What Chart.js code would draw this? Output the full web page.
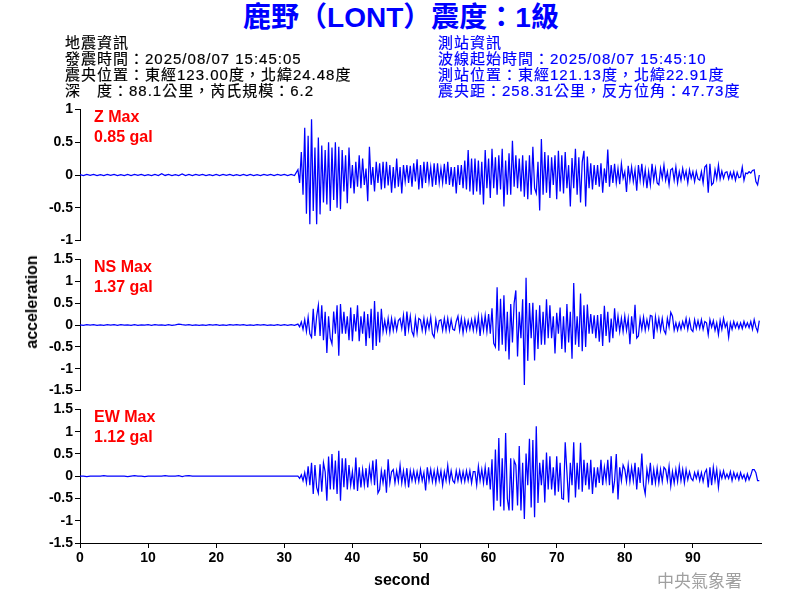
<!DOCTYPE html>
<html><head><meta charset="utf-8">
<script src="https://cdn.jsdelivr.net/npm/chart.js@4.4.1/dist/chart.umd.min.js"></script>
<style>
html,body{margin:0;padding:0;background:#fff;}
#wrap{position:relative;width:800px;height:600px;overflow:hidden;background:#fff;font-family:"Liberation Sans",Arial,"Noto Sans CJK TC",sans-serif;}
canvas{position:absolute;left:0;}
.t{position:absolute;white-space:nowrap;}
#title{left:0;width:802px;text-align:center;top:2px;font-size:28px;line-height:32px;font-weight:bold;color:#0000ff;}
.hdr{font-size:15px;line-height:16px;top:35px;letter-spacing:1px;-webkit-text-stroke:0.2px currentColor;}
#hl{left:65px;color:#000;}
#hr{left:438px;color:#0000ff;}
.red{left:94px;color:#ff0000;font-size:16px;line-height:20px;font-weight:bold;}
#acc{left:32px;top:302px;transform:translate(-50%,-50%) rotate(-90deg);font-size:16px;font-weight:bold;}
#sec{left:402px;top:580px;transform:translate(-50%,-50%);font-size:16px;font-weight:bold;}
#cwb{left:657px;top:569px;font-size:17px;line-height:22px;color:#a0a0a0;font-family:"Noto Sans CJK TC",sans-serif;}
</style></head><body>
<div id="wrap">
<canvas id="cZ" width="800" height="152" style="top:99px"></canvas>
<canvas id="cNS" width="800" height="152" style="top:249px"></canvas>
<canvas id="cEW" width="800" height="201" style="top:399px"></canvas>
<div class="t" id="title">鹿野（LONT）震度：1級</div>
<div class="t hdr" id="hl">地震資訊<br>發震時間：2025/08/07 15:45:05<br>震央位置：東經123.00度，北緯24.48度<br>深　度：88.1公里，芮氏規模：6.2</div>
<div class="t hdr" id="hr">測站資訊<br>波線起始時間：2025/08/07 15:45:10<br>測站位置：東經121.13度，北緯22.91度<br>震央距：258.31公里，反方位角：47.73度</div>
<div class="t red" style="top:107px">Z Max<br>0.85 gal</div>
<div class="t red" style="top:257px">NS Max<br>1.37 gal</div>
<div class="t red" style="top:407px">EW Max<br>1.12 gal</div>
<div class="t" id="acc">acceleration</div>
<div class="t" id="sec">second</div>
<div class="t" id="cwb">中央氣象署</div>
</div>
<script>
// sampling grid (seconds)
const preStart = 0, preStep = 0.5;
const eventStart = 32, eventStep = 0.25;
const xMin = 0, xMax = 100, xStep = 10;
const zRange = [-1, 1];
const hRange = [-1.5, 1.5];
const yStep = 0.5;

// pre-event noise (0 - 31.5 s)
const preZ = [0.008,-0.008,0.009,-0.007,0.008,-0.009,0.007,-0.008,0.009,-0.007,0.008,-0.009,0.007,-0.008,0.009,-0.008,
0.008,-0.007,0.009,-0.008,0.007,-0.009,0.008,-0.008,0.02,-0.007,0.008,-0.009,0.007,-0.008,0.015,-0.009,
0.009,-0.008,0.008,-0.007,0.009,-0.008,0.007,-0.009,0.008,-0.008,0.009,-0.007,0.008,-0.009,0.007,-0.008,
0.008,-0.009,0.009,-0.008,0.007,-0.008,0.009,-0.007,0.008,-0.009,0.008,-0.007,0.009,-0.008,0.008,-0.008];
const preNS = [0.005,-0.006,0.006,-0.005,0.007,-0.006,0.005,-0.007,0.006,-0.005,0.006,-0.006,0.007,-0.005,0.005,-0.006,
0.006,-0.007,0.005,-0.005,0.006,-0.006,0.007,-0.005,0.005,-0.006,0.006,-0.007,0.005,0.02,0.006,-0.005,
0.007,-0.006,0.005,-0.006,0.005,-0.007,0.006,-0.005,0.007,-0.006,0.005,-0.006,0.007,-0.005,0.006,-0.005,
0.006,-0.007,0.005,-0.006,0.007,-0.005,0.006,-0.006,0.005,-0.007,0.007,-0.006,0.006,-0.007,0.01,-0.01];
const preEW = [0,0,-0.01,0,0,0,0,0.01,0,0,0,0,0,0,-0.01,0,
0.01,0,0,-0.01,0,0,0,0,0,0.012,0,0,0,0.01,-0.01,0.01,
0.012,0,0,0,0,0,0,0,0,0,0,0,0,0,0,0,
0,0,0,0,0,0,0,0,0,0,0,0,0,0,0,0];

// event section (32 - 99.75 s), 4 samples per second
const eventZ = [
0.08,-0.12,0.35,-0.3, 0.72,-0.59,0.6,-0.75, 0.85,-0.55,0.42,-0.75, 0.57,-0.6,0.45,-0.42,
0.38,-0.45,0.5,-0.55, 0.42,-0.38,0.5,-0.5, 0.43,-0.52,0.38,-0.25, 0.3,-0.43,0.42,-0.2,
0.15,-0.28,0.2,-0.18, 0.3,-0.2,0.25,-0.15, 0.1,-0.4,0.43,-0.15, 0.12,-0.25,0.2,-0.12,
0.18,-0.22,0.2,-0.2, 0.2,-0.16,0.15,-0.27, 0.12,-0.2,0.25,-0.18, 0.12,-0.28,0.15,-0.1,
0.15,-0.12,0.14,-0.18, 0.18,-0.1,0.24,-0.22, 0.15,-0.2,0.2,-0.12, 0.2,-0.1,0.12,-0.18,
0.18,-0.15,0.18,-0.12, 0.1,-0.12,0.17,-0.14, 0.2,-0.15,0.12,-0.18, 0.12,-0.28,0.15,-0.15,
0.15,-0.2,0.22,-0.22, 0.38,-0.25,0.25,-0.3, 0.25,-0.25,0.22,-0.3, 0.2,-0.45,0.38,-0.2,
0.25,-0.35,0.4,-0.2, 0.27,-0.3,0.3,-0.22, 0.4,-0.48,0.22,-0.3, 0.33,-0.3,0.52,-0.18,
0.3,-0.2,0.25,-0.25, 0.3,-0.33,0.22,-0.37, 0.3,-0.3,0.43,-0.2, -0.28,0.2,-0.54,0.55,
-0.3,0.35,-0.27,0.3, -0.35,0.27,-0.15,0.3, -0.37,0.37,-0.25,0.3, -0.28,0.35,-0.2,0.15,
-0.48,0.26,-0.2,0.4, -0.3,0.27,-0.42,0.2, 0.37,-0.48,0.28,-0.2, 0.18,-0.22,0.15,-0.15,
0.15,-0.18,0.18,-0.27, 0.1,-0.12,0.39,-0.18, 0.15,-0.12,0.17,-0.12, 0.1,-0.14,0.17,-0.05,
0.05,-0.26,0.14,-0.08, 0.12,-0.1,0.08,-0.24, 0.15,-0.08,0.17,-0.12, 0.08,-0.2,0.05,-0.15,
0.17,-0.08,0.1,-0.12, -0.15,0.1,-0.05,0.15, -0.08,0.05,-0.15,0.08, 0.1,-0.08,0.12,-0.12,
0.05,-0.08,0.1,-0.05, 0.06,-0.12,0.08,-0.05, 0.05,-0.1,0.05,-0.06, -0.08,0.05,-0.12,0.12,
0.15,-0.27,0.17,-0.15, -0.12,0.08,-0.06,0.15, -0.06,0.06,-0.05,0.04, 0.05,-0.06,0.04,-0.05,
0.05,-0.08,0.04,-0.04, -0.03,0.12,-0.08,0.03, 0.02,0.05,0.03,0.07, 0.08,-0.1,-0.15,0.0];

const eventNS = [
0.02,-0.04,0.07,-0.1, 0.12,-0.15,0.18,-0.2, -0.28,0.37,-0.25,0.2, 0.45,-0.25,0.45,-0.35,
0.3,-0.64,0.2,-0.3, -0.43,0.31,-0.2,0.45, -0.7,0.48,-0.2,0.3, -0.2,0.2,-0.35,0.4,
-0.37,0.25,-0.15,0.45, -0.37,0.2,-0.2,0.31, -0.48,0.25,-0.3,0.37, -0.57,0.55,-0.48,0.3,
-0.4,0.37,-0.15,0.1, -0.15,0.15,-0.17,0.15, -0.12,0.12,-0.12,0.1, 0.15,-0.08,0.22,-0.25,
0.31,-0.1,0.2,-0.15, -0.25,0.15,-0.18,0.15, 0.12,-0.12,0.15,-0.15, 0.12,-0.08,0.18,-0.2,
-0.28,0.12,-0.12,0.1, 0.12,-0.12,0.15,-0.12, 0.15,-0.12,0.12,-0.1, -0.12,0.08,0.2,-0.12,
0.15,-0.18,0.12,-0.12, 0.1,-0.1,0.12,-0.12, 0.15,-0.12,0.2,-0.25, 0.18,-0.12,0.22,-0.15,
0.25,-0.2,0.38,-0.42, -0.5,0.86,-0.59,0.6, -0.45,0.68,-0.6,0.3, -0.79,0.48,-0.4,0.5,
0.79,-0.72,0.3,-0.3, 0.59,-1.37,1.08,-0.82, 0.5,-0.3,0.51,-0.81, 0.35,-0.55,0.45,-0.45,
0.3,-0.45,0.59,-0.3, 0.45,-0.3,0.2,-0.65, 0.28,-0.2,0.4,-0.55, 0.2,-0.63,0.48,-0.4,
0.3,-0.77,0.96,-0.45, 0.2,-0.5,0.72,-0.6, 0.45,-0.5,0.47,-0.2, 0.25,-0.2,0.22,-0.3,
0.23,-0.38,0.25,-0.48, 0.44,-0.25,0.3,-0.4, 0.15,-0.3,0.38,-0.15, 0.2,-0.15,0.15,-0.15,
0.2,-0.12,0.15,-0.44, 0.2,-0.2,0.46,-0.3, -0.25,0.15,-0.1,0.18, -0.12,0.12,-0.08,0.22,
0.2,-0.32,0.18,-0.1, 0.15,-0.12,0.15,-0.12, -0.2,0.15,-0.05,0.29, 0.2,-0.12,0.05,-0.12,
0.05,-0.1,0.08,-0.06, 0.15,-0.1,0.12,-0.1, -0.15,0.12,-0.08,0.1, -0.08,0.12,-0.1,0.08,
0.05,-0.22,0.12,-0.05, 0.1,-0.12,0.05,-0.22, 0.1,-0.1,0.15,-0.05, 0.05,-0.28,0.05,-0.1,
0.08,-0.06,0.05,-0.08, 0.05,-0.08,0.08,-0.05, 0.05,-0.06,0.08,-0.1, 0.12,-0.05,-0.15,0.1];

const eventEW = [
0.0,-0.05,0.03,-0.1, 0.08,-0.15,0.22,-0.2, 0.3,-0.4,0.25,-0.25, -0.38,0.27,-0.35,0.3,
0.1,-0.55,0.44,-0.3, 0.5,-0.3,0.35,-0.4, 0.57,-0.55,0.4,-0.25, 0.4,-0.3,0.25,-0.2,
0.1,-0.3,0.42,-0.33, 0.2,-0.25,0.15,-0.2, 0.18,-0.25,0.2,-0.1, 0.35,-0.2,0.38,-0.38,
-0.3,0.12,-0.15,0.15, -0.37,0.38,-0.15,0.1, 0.15,-0.15,0.12,-0.12, 0.24,-0.15,0.12,-0.18,
0.18,-0.25,0.12,-0.1, 0.12,-0.12,0.1,-0.12, 0.15,-0.1,0.08,-0.32, 0.2,-0.1,0.15,-0.12,
0.12,-0.15,0.15,-0.1, 0.12,-0.2,0.1,-0.1, 0.24,-0.12,0.12,-0.1, -0.15,0.12,-0.1,0.12,
-0.12,0.1,-0.12,0.12, -0.1,0.12,-0.15,0.1, 0.1,-0.2,0.22,-0.1, 0.15,-0.15,0.2,-0.2,
0.2,-0.3,0.38,-0.77, 0.6,-0.55,0.86,-0.68, 0.4,-0.77,0.97,-0.5, -0.77,0.4,-0.77,0.35,
0.25,-0.66,0.68,-0.77, 0.3,-0.96,0.51,-0.2, 0.84,-0.7,0.81,-0.92, 1.12,-0.6,0.3,-0.2,
0.37,-0.59,0.53,-0.3, 0.45,-0.3,0.2,-0.43, 0.45,-0.35,0.3,-0.5, -0.52,0.76,0.1,-0.59,
0.3,-0.2,0.76,-0.48, 0.3,-0.3,0.75,-0.35, 0.37,-0.2,0.3,-0.3, 0.37,-0.4,0.2,-0.25,
0.2,-0.15,0.37,-0.2, 0.2,-0.1,0.37,-0.2, 0.45,-0.38,-0.1,0.5, -0.52,0.2,-0.1,0.25,
0.15,-0.12,0.25,-0.12, 0.2,-0.1,0.3,-0.3, 0.2,-0.15,0.51,-0.2, -0.4,0.15,-0.1,0.3,
-0.2,0.15,-0.15,0.18, -0.15,0.15,-0.12,0.2, 0.15,-0.1,0.22,-0.22, 0.1,-0.15,0.15,-0.12,
0.22,-0.1,0.15,-0.15, 0.15,-0.08,0.1,-0.05, -0.1,0.08,-0.05,0.1, -0.1,0.08,-0.12,0.08,
0.15,-0.25,0.2,-0.2, 0.2,-0.1,0.15,-0.25, 0.1,-0.05,0.12,-0.05, 0.05,-0.05,0.1,-0.1,
0.08,-0.05,0.06,-0.08, 0.08,-0.05,0.03,-0.1, 0.05,-0.08,0.02,0.15, 0.15,0.08,-0.1,-0.1];

function buildPoints(pre, ev) {
  const pts = [];
  pre.forEach((v, i) => pts.push({x: preStart + i * preStep, y: v}));
  ev.forEach((v, i) => pts.push({x: eventStart + i * eventStep, y: v}));
  return pts;
}

const tickFont = {family: '"Liberation Sans", Arial, sans-serif', size: 14, weight: 'bold'};
function fmt(v) { return String(Number(v.toFixed(2))); }

function makePanel(id, pre, ev, range, showX) {
  const xAxis = {
    type: 'linear', min: xMin, max: xMax,
    display: showX,
    ticks: {stepSize: xStep, color: '#000', font: tickFont, padding: 2, maxRotation: 0,
      callback: v => (v >= xMax ? null : String(v))},
    grid: {display: true, drawOnChartArea: false, drawTicks: true, tickLength: 5, color: '#000', tickColor: '#000'},
    border: {display: true, color: '#000', width: 1}
  };
  if (showX) xAxis.afterFit = s => { s.height = 57; };
  return new Chart(document.getElementById(id), {
    type: 'line',
    data: {datasets: [{data: buildPoints(pre, ev), borderColor: '#0000ff', borderWidth: 1.25,
      pointRadius: 0, tension: 0, fill: false}]},
    options: {
      responsive: false, animation: false, devicePixelRatio: 1,
      layout: {padding: {top: 8, bottom: showX ? 0 : 8, left: 0, right: 39}},
      plugins: {legend: {display: false}, tooltip: {enabled: false}, title: {display: false}},
      scales: {
        x: xAxis,
        y: {
          type: 'linear', min: range[0], max: range[1],
          afterFit: s => { s.width = 80; },
          ticks: {stepSize: yStep, color: '#000', font: tickFont, padding: 2, callback: v => fmt(v)},
          grid: {display: true, drawOnChartArea: false, drawTicks: true, tickLength: 5, color: '#000', tickColor: '#000'},
          border: {display: true, color: '#000', width: 1}
        }
      }
    }
  });
}

makePanel('cZ', preZ, eventZ, zRange, false);
makePanel('cNS', preNS, eventNS, hRange, false);
makePanel('cEW', preEW, eventEW, hRange, true);
</script>
</body></html>
